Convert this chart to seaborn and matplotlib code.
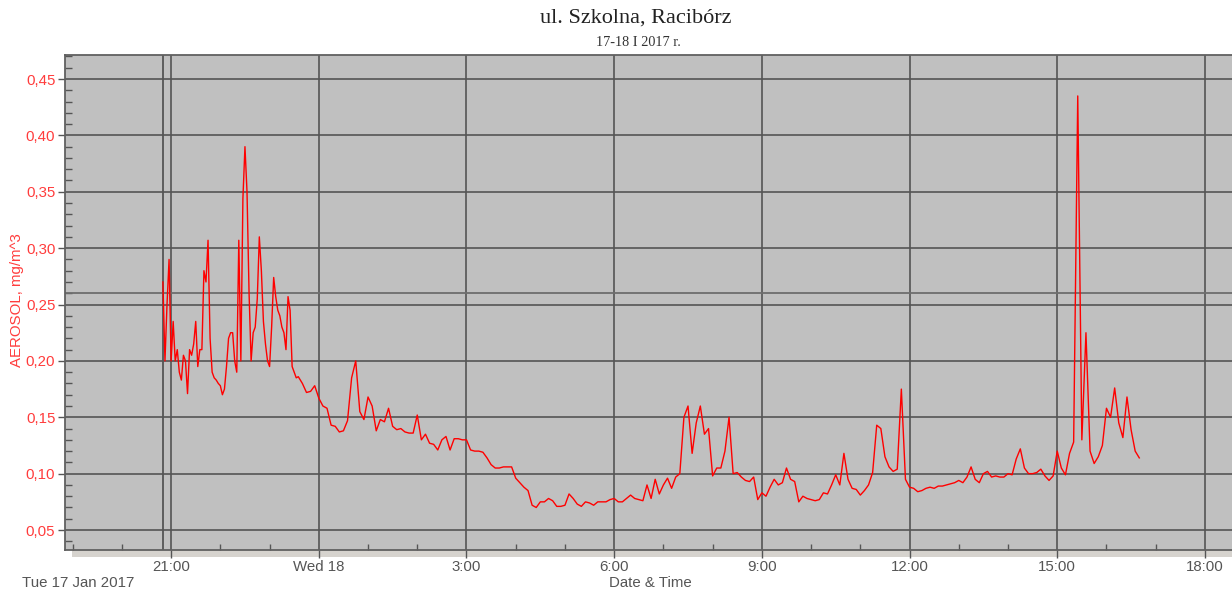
import numpy as np
import pandas as pd
import matplotlib
matplotlib.use("Agg")
import matplotlib.pyplot as plt
import matplotlib.dates as mdates
from matplotlib.patches import Rectangle
import seaborn as sns

# Aerosol concentration, mg/m^3.
# Evening readings every 2.5 minutes, 17 Jan 2017 20:50 - 23:35
aerosol_evening = [
    0.270, 0.200, 0.250, 0.290, 0.200, 0.235, 0.200, 0.210, 0.190, 0.183,
    0.205, 0.200, 0.171, 0.210, 0.205, 0.215, 0.235, 0.195, 0.210, 0.210,
    0.280, 0.270, 0.307, 0.220, 0.190, 0.185, 0.183, 0.180, 0.178, 0.170,
    0.175, 0.195, 0.220, 0.225, 0.225, 0.200, 0.190, 0.307, 0.200, 0.344,
    0.390, 0.350, 0.260, 0.200, 0.225, 0.230, 0.255, 0.310, 0.280, 0.235,
    0.215, 0.200, 0.195, 0.230, 0.274, 0.257, 0.245, 0.240, 0.230, 0.225,
    0.210, 0.257, 0.245, 0.195, 0.190, 0.185, 0.186,
]
evening_start = "2017-01-17 20:50"

# Readings every 5 minutes, 23:40 - 16:35 next day
aerosol = [
    0.180, 0.172, 0.173, 0.178, 0.167, 0.160,
    0.158, 0.143, 0.142, 0.137, 0.138, 0.147, 0.185, 0.200, 0.155, 0.148,
    0.168, 0.160, 0.138, 0.148, 0.146, 0.158, 0.142, 0.139, 0.140, 0.137,
    0.136, 0.136, 0.152, 0.130, 0.135, 0.127, 0.126, 0.121, 0.130, 0.133,
    0.121, 0.131, 0.131, 0.130, 0.130, 0.121, 0.120, 0.120, 0.119, 0.114,
    0.108, 0.105, 0.105, 0.106, 0.106, 0.106, 0.096, 0.092, 0.088, 0.085,
    0.072, 0.070, 0.075, 0.075, 0.078, 0.076, 0.071, 0.071, 0.072, 0.082,
    0.078, 0.073, 0.071, 0.075, 0.074, 0.072, 0.075, 0.075, 0.075, 0.077,
    0.078, 0.075, 0.075, 0.078, 0.081, 0.078, 0.077, 0.076, 0.090, 0.078,
    0.095, 0.082, 0.090, 0.096, 0.087, 0.097, 0.100, 0.150, 0.160, 0.118,
    0.145, 0.160, 0.135, 0.140, 0.098, 0.105, 0.105, 0.120, 0.150, 0.100,
    0.101, 0.097, 0.094, 0.093, 0.097, 0.077, 0.083, 0.080, 0.088, 0.095,
    0.090, 0.092, 0.105, 0.095, 0.093, 0.075, 0.080, 0.078, 0.077, 0.076,
    0.077, 0.083, 0.082, 0.090, 0.099, 0.090, 0.118, 0.095, 0.087, 0.086,
    0.081, 0.085, 0.090, 0.101, 0.143, 0.140, 0.115, 0.106, 0.102, 0.104,
    0.175, 0.095, 0.088, 0.087, 0.084, 0.085, 0.087, 0.088, 0.087, 0.089,
    0.089, 0.090, 0.091, 0.092, 0.094, 0.092, 0.097, 0.106, 0.095, 0.092,
    0.100, 0.102, 0.097, 0.098, 0.097, 0.097, 0.100, 0.099, 0.113, 0.122,
    0.105, 0.100, 0.100, 0.101, 0.104, 0.098, 0.094, 0.098, 0.120, 0.105,
    0.099, 0.118, 0.128, 0.435, 0.130, 0.225, 0.120, 0.109, 0.115, 0.125,
    0.158, 0.150, 0.176, 0.145, 0.132, 0.168, 0.139, 0.120, 0.114,
]
main_start = "2017-01-17 23:40"
limit_level = 0.26

view_start = "2017-01-17 18:50:40"
view_end = "2017-01-18 18:33"
y_min, y_max = 0.0323, 0.4713

major_times = ["2017-01-17 21:00", "2017-01-18 00:00", "2017-01-18 03:00",
               "2017-01-18 06:00", "2017-01-18 09:00", "2017-01-18 12:00",
               "2017-01-18 15:00", "2017-01-18 18:00"]
major_labels = ["21:00", "Wed 18", "3:00", "6:00", "9:00", "12:00", "15:00", "18:00"]
y_ticks = [0.05, 0.10, 0.15, 0.20, 0.25, 0.30, 0.35, 0.40, 0.45]

title = "ul. Szkolna, Racibórz"
subtitle = "17-18 I 2017 r."
date_caption = "Tue 17 Jan 2017"
x_title = "Date & Time"
y_title = "AEROSOL, mg/m^3"

RED = "#ff3c3c"
GRID = "#555555"
AXIS_TEXT = "#555555"
PANEL = "#c0c0c0"
STRIP = "#d6d3ce"

times = pd.DatetimeIndex(
    list(pd.date_range(evening_start, periods=len(aerosol_evening), freq="150s"))
    + list(pd.date_range(main_start, periods=len(aerosol), freq="5min"))
)
df = pd.DataFrame({"time": times, "aerosol": aerosol_evening + aerosol})

plt.rcParams["font.family"] = ["Liberation Sans", "DejaVu Sans"]

W, H = 1232, 591
fig = plt.figure(figsize=(W / 100, H / 100), dpi=100)
ax = fig.add_axes([65 / W, 41 / H, 1 - 65 / W, 495 / H])
ax.set_facecolor(PANEL)

# strip below the time axis
fig.add_artist(Rectangle((72 / W, 34 / H), 1 - 72 / W, 7 / H,
                         transform=fig.transFigure, facecolor=STRIP,
                         edgecolor="none", zorder=-1))

sns.lineplot(data=df, x="time", y="aerosol", ax=ax, color="red",
             linewidth=1.0, zorder=3)

ax.axhline(limit_level, color="#6e6e6e", linewidth=1.3, zorder=2)
ax.axvline(times[0], color=GRID, linewidth=1.3, zorder=2)

ax.set_xlim(pd.Timestamp(view_start), pd.Timestamp(view_end))
ax.set_ylim(y_min, y_max)

major_dt = pd.to_datetime(major_times)
ax.set_xticks(mdates.date2num(major_dt))
ax.set_xticklabels(major_labels)
minor_dt = pd.date_range("2017-01-17 19:00", view_end, freq="h")
ax.set_xticks(mdates.date2num(minor_dt), minor=True)

ax.set_yticks(y_ticks)
ax.set_yticklabels([f"{v:.2f}".replace(".", ",") for v in y_ticks])
ax.set_yticks(np.arange(0.04, 0.4701, 0.01), minor=True)

ax.grid(True, which="major", color=GRID, linewidth=1.2, zorder=1)
ax.grid(False, which="minor")
ax.set_axisbelow(True)

ax.tick_params(axis="x", which="major", direction="out", length=5.5, width=1,
               color=GRID, labelcolor=AXIS_TEXT, labelsize=10.8, pad=2)
ax.tick_params(axis="x", which="minor", direction="in", length=4.5, width=1,
               color=GRID)
ax.tick_params(axis="y", which="major", direction="out", length=5, width=1,
               color=GRID, labelcolor=RED, labelsize=10.8, pad=2)
ax.tick_params(axis="y", which="minor", direction="in", length=5, width=1,
               color=GRID)

for side in ("left", "top", "bottom"):
    ax.spines[side].set_color("#606060")
    ax.spines[side].set_linewidth(1.3)
ax.spines["right"].set_visible(False)

ax.set_xlabel("")
ax.set_ylabel("")

fig.text(636 / W, 1 - 18 / H, title, ha="center", va="center",
         family=["Liberation Serif", "DejaVu Serif"], size=16, color="#222222")
fig.text(638 / W, 1 - 42 / H, subtitle, ha="center", va="center",
         family=["Liberation Serif", "DejaVu Serif"], size=10.3, color="#333333")
fig.text(22 / W, 1 - 583 / H, date_caption, ha="left", va="center",
         size=10.8, color=AXIS_TEXT)
fig.text(650 / W, 1 - 583 / H, x_title, ha="center", va="center",
         size=10.8, color=AXIS_TEXT)
fig.text(17 / W, 1 - 300 / H, y_title, ha="center", va="center",
         rotation=90, size=10.8, color=RED)

fig.savefig("out.png", dpi=100, facecolor="white")
